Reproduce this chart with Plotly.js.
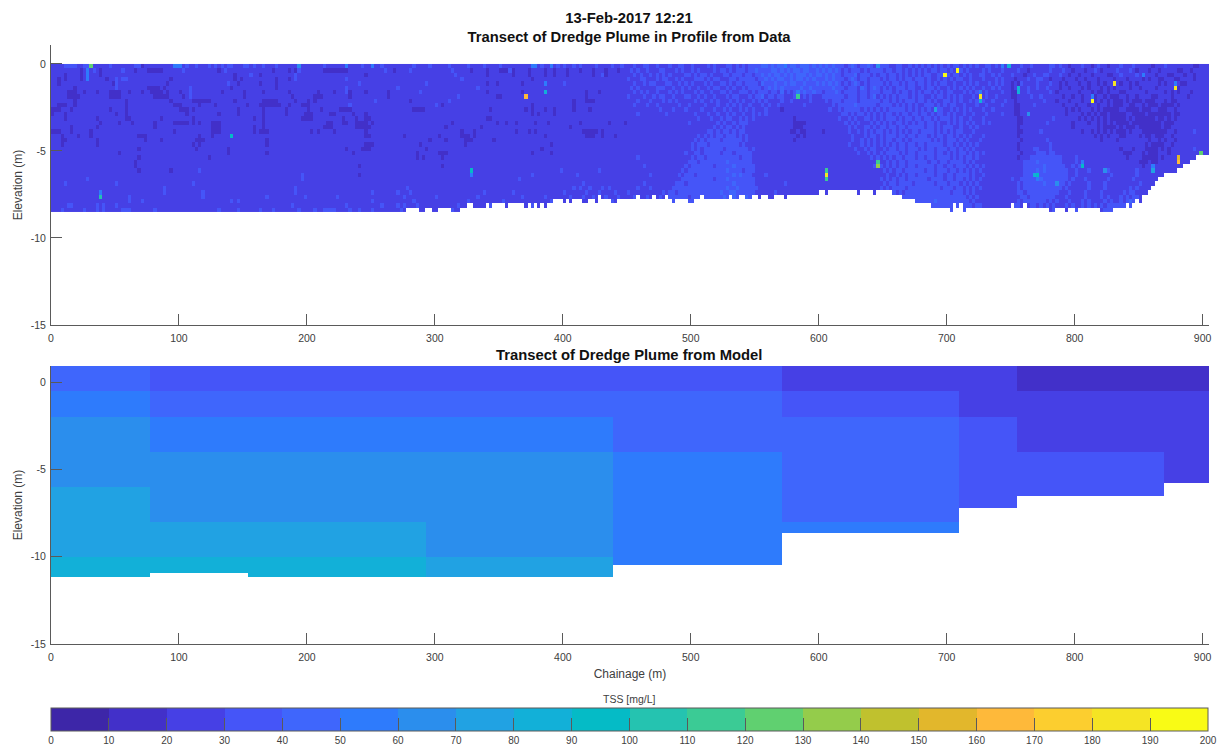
<!DOCTYPE html>
<html><head><meta charset="utf-8">
<script src="https://cdn.plot.ly/plotly-3.0.1.min.js"></script>
<style>html,body{margin:0;padding:0;background:#fff}#plot{width:1226px;height:746px}
.heatmaplayer image{filter:blur(0.6px)}</style>
</head><body><div id="plot"></div>
<script>
// ---------- colour levels (10 mg/L steps) ----------
const levelColors=["#3d26a8","#4230c9","#4640e5","#4555f8","#3f66fc","#2e7bfc","#2b8eed","#21a2e3","#12b0d8","#05bbc6","#25c3b0","#3bcb95","#60d070","#94cc4b","#c0c12e","#e2b72c","#feb93a","#fcce2f","#f5e424","#f9fb15"];
const colorTicks=[0,10,20,30,40,50,60,70,80,90,100,110,120,130,140,150,160,170,180,190,200];
const chainTicks=[0,100,200,300,400,500,600,700,800,900];
const elevTicks=[0,-5,-10,-15];
const elevTickText=["0","-5","-10","-15"];

// ---------- measured profile, cells 2.5 m x 0.25 m ----------
const cellW=2.5, cellH=0.25, nCols=362, nRows=34, base=25;
// seabed steps: section end chainage and depth
const bedEnds=[277.6,288.5,293.7,296.4,301.6,312,319.8,325,329,339.3,342,344.6,355,358.1,368.8,371.4,374,377.1,379.7,382.4,385,387.6,392.8,400.6,403.2,405.8,408.4,416.2,418.8,424,427.2,430.3,438.1,443.6,458,460,471,473.6,478.8,481.4,484,486.6,497,502.7,507.4,510.6,528.8,531.4,536.6,541.8,547,552.3,554.9,560.1,565.3,572,575.2,601.2,604,606.4,630,633,643,646,654,656,658,665,675.5,688.6,701.6,705,707.6,710.2,712.8,715.4,751,753.7,759,761.5,780.5,785.7,793.6,796.2,798.8,801.4,820.1,831,838.9,841.5,844.9,847.5,850.1,852.7,857,860,863,866,871,879,884,889,894,906];
const bedDepth=[8.5,8.25,8.5,8.25,8.5,8.25,8.5,8.25,8,8.25,8,8.25,8,8.25,8,8.25,8,8.25,8,8.25,8,8.25,8,7.75,8,7.75,8,7.75,8,7.75,8,7.5,7.75,8,7.75,7.5,7.75,7.5,7.75,7.5,7.75,8,7.75,8,7.75,7.5,7.75,7.5,7.75,7.5,7.75,7.5,7.75,7.5,7.75,7.5,7.75,7.5,7.25,7.5,7.25,7.5,7.25,7.5,7.25,7.5,7.25,7.5,7.75,8,8.25,8.5,8,8.25,8,8.5,8.25,8,8.25,8,8.25,8.5,8.25,8.5,8.25,8.5,8.25,8.5,8.25,8,8.25,8,7.75,8,7.5,7.25,7,6.75,6.5,6.25,6,5.75,5.5,5.25];
// darker cells west of col 180, one list per row
const darkByRow=[[28],[9,15,26,30,31,32,33,34,52,69,74,76,85,86,87,88,89,90,91,92,107,131,136,140,141,142,144,149,154,157,161,165,169,173,177],[4,9,15,57,65,98,136,144,149,154,157,161,169,173],[2,4,9,17,37,57,59,70,74,76,150],[2,19,36,58,65,70,136,147,139],[7,20,30,31,32,33,35,56,70,92],[5,6,7,10,14,18,19,20,21,24,28,31,32,33,34,36,40,53,60,66,74,83,88,93,98,105,136,147,167,171],[5,6,7,8,18,19,20,21,32,33,34,35,36,41,60,75,82,83,84,93,105,139,140,167],[7,23,37,44,45,46,47,48,49,57,66,67,68,69,70,76,80,82,112,163,167,168,169],[2,3,4,7,23,38,39,40,46,51,61,65,66,67,68,69,70,71,74,78,79,80,122,150,163],[0,1,2,6,18,23,40,41,42,44,58,66,73,80,84,90,91,92,93,113,114,115,116,137,148,150,154,157,163,168],[0,4,20,23,42,52,58,66,73,79,80,81,87,88,94,98,150,152,157],[4,14,23,24,34,44,63,66,78,79,80,81,91,95,98,99,136,137],[15,21,25,32,38,39,40,41,42,44,46,50,51,52,66,86,87,91,92,95,96,97,98,100,125,139,142,145,151,155,165,174,179],[6,14,32,50,51,52,63,66,85,86,87,95,96,97,98,99,123,134,162],[0,1,2,6,12,38,50,51,52,63,65,66,67,81,83,88,98,128,132,145,149,151,166,167,168,169,170,172],[3,8,12,27,28,29,46,50,98,99,110,121,128,129,130,132,154,167,168,169,172,176],[3,4,14,29,34,45,46,47,67,118,123,129,130,131,138],[3,14,44,46,67,98,99,100,115,129,156],[27,45,55,92,97,98,99,117,153],[21,55,67,94,114,121,122,123,150,156],[27,49,114,116,122],[26],[26,96,122],[27,37],[96],[],[],[],[],[],[],[],[]];
// lighter cells west of col 180, one list per row
const lightByRow=[[4,5,6,7,10,11,18,26,27,42,45,49,51,53,55,56,60,61,63,66,70,85,97,103,113,118,124,130,135,140,153,158,160,163,165,170,175,178],[13,22,41,54,77,104,112,125,143],[62,76,126,172],[20,22,23,76,92,128],[20,55,96,117,160],[20,43,92,108,133],[43,92,115],[43,127],[101,124],[93,120],[],[],[],[],[],[],[],[],[],[],[],[],[],[],[46,159,171],[78,150,164],[11,78,146],[4,20,44,166],[35,76,111,163,165,168,172,174],[35,47,76,100,108,112,135,144,160,167,171,176],[24,47,67,79,89,110,120,133,147,154,162,166,169,173,177],[24,28,56,58,100,113,130,141,156,161,168,175,179],[5,6,14,16,20,75,92,103,108,110,114,127,137,150,158,164,170,176],[3,10,14,16,22,23,24,32,52,58,65,69,77,82,85,86,87,88,93,96,100,109,117,125,133,142,151,160,168,174]];
// brighter cells: chainage column, row, TSS
const hotCols=[12,11,11,11,39,40,38,77,92,100,15,15,56,148,154,154,131,131,150,151,156,233,233,242,242,242,258,258,258,279,283,290,290,290,302,302,276,305,299,297,322,322,308,307,308,314,329,344,344,325,325,332,351,351,352,352,359,341];
const hotRows=[0,1,2,3,0,0,0,0,0,0,29,30,16,7,4,6,24,25,0,0,0,6,7,24,25,26,22,23,0,2,1,7,8,6,5,6,10,11,0,0,22,23,25,25,26,27,24,23,24,8,7,4,5,4,21,22,20,2];
const hotVals=[125,55,55,55,55,55,55,65,55,55,55,105,95,165,55,85,95,55,55,55,55,55,115,115,185,115,115,135,65,195,195,185,85,55,85,85,75,65,85,55,55,95,95,85,55,65,65,55,75,195,55,185,185,55,155,165,125,55];
// cell by cell reading east of col 180 (symbols: 1=15, 2=25, 3=35, 4=45, 5=55)
const eastA=["223223322322232233223222232322233232323333443434453443444343","232322322233222323223232222323323233323343333443434344344334","223232232323232222332323323222332333233233434344343434443434","322233222323322323222333232332223323333323343434433434434343","223223233222332232323222323223323233233332433343343443343334","232322222333223223232232232332232322323333234343433333433433","223232322322232323222323223223323223332323332332423232343343","322223223233223222332232322322232332223233423323322232232322","222322232223232322222323223232223232322323232222322322222322","223222322322222232232222322232232323223222323223222222232222","222222222232223222322223222322323223232322232222122222222222","222322222222322222222322232232232322322323232222222222222222","222222222222222222222232223223233223232322222222222212222222","222222222222222222232222222232322323332222222222222211112222","222222222222222222222222222323233232322222222222222211122222","222222222222222222222222233232332323322222222222222112112222","222222222222222222222232323233233323232222222222222221212222","222222222222222222222323233332333333232222222222222212222222","222222222222222222223233323333333332322222222222222222222222","222222222222222222223232333333233333332322222222222222222222","222222222222222222322332333332333233333222222222222222222222","222322222222222222223233233333333332333222222222222222222222","222222222222222222233323333333343333333222222222222222222222","222223222222222222323333333233333433333322222222222222222222","222222222222222223233333333333343333233322222222222222222222","222222232222222232333233333333333434333222232222222222222222","222222222222222223333333333233343333333322222222222222222222","222223222222222333233333333333333433333322222222232222222222","222322232222223333333333333333343343333332222222222222222222","322222222223233233333333333334334433333322222232222222222222","223222322232333333323333333333434433343322222232222222222222","323232332323233333233333333343344333433322222222222222222222","232332332332333233233323333333333433333322222222222222222222","322233233333333233233233333333333333333322222222222222222222"];
const eastB=["434343332343233432433322332232323232323232332323232233232223","343434323233323233332332332323232323323323223232222323222322","434343323334233323233233232323232332233232332323223322323222","334343332343233233323233232332333232232323233223222322232322","343434323234323233332323323233233232323322322323232223232322","333343332333243234323232333233223233232232323232322322323222","323334323333233233323332323323232332323233222323232232222322","233333332333233234232323233323233223233232323222322232232222","223233323333233333323323232333233232322332323223232322322232","222232333334333333233332323232322333232323322322232232222322","222322323333323232323233333232323232333223232323222322322222","222222233232332323232332323323323323233232322322322232222322","222222322323223323232333232332332332323332323223222322222222","222222223232322232323232332323233233232232323232322323222222","222222222323223323233233233233333233232333223223232222222222","212222222322323232332323232323323333232323233222322222222222","222222222232223233232333233233233323233233232323222322222222","222222222232232323232332332323333332323233323232223222222222","222222222322232323232323233233233233333233232323232222222222","222222222223223233223233233233323233233323323232322222222222","222222222222322323232333323233233333233232323323232322222222","222222222222222232323232332333233233233332323233232222222222","222222222222222222322323233233333323323323333232322222222222","222222222222222223232323233233233333233233233323232322222222","222222222222222222223232332333333233233323323232323222222222","222222222222222222222322323233233333233233233332322322222222","222222222222222222232323233233333323333233233232323222222222","222222222222222222223233233332333333233323332323232222222222","222222222222222222232323333233333333332333233232323222222222","322222222222222222323233232333333333333332333232322222222222","222222222222222222223233323333333333333333333323232222222222","222222222222222222232323232333333333433333333332322222222222","222222222222222222223233233333333343333333333333233222222222","222222222222222223232323233333343333343333333333323222222222"];
const eastC=["222322322222332322122232212322122232223222221222322222222112","223221222222322232212221223212222322232122212212222211221222","322212232233222322122122212222112232222321222122211222122122","212223223322122212221221222122221222122221212211222112222122","121322223222322121222122122121222212212122222212122121122222","122223223223222122122212122212121222212212222122222112222222","112223222222321222222122212112122211222222122222121212221222","112222322322222212212212211221211122122122221122221222212222","212222222232221222122212221212121112121112111222121122222222","211222232222222212221222122122121112211221211121111212222222","211222222222222221212122212121111122111121112211122122222222","211222222222222221222212121211211111221111211111112112222222","221122222222232222222121212121211111212111111211212122222222","221122222223222222212222122121212111121111111112111222222222","221222222222222222212222222121111212111211111112112222222222","221122222322222222222212212121212111212221111111122122222322","221222222222222222222222221212122211222212112111221222222222","222122222223222222222222222212222122222222212212122122222222","221222222222322222222222222222222222222222121111221222222222","221222233222322222222222222222222212221222111121212222222322","222122223332332222222222222222222221112221211122212222222222","221222333333333322223222222222222222122221111121222222222222","222233334333333322223222222222222222222211121122222222222222","222233333343333332232322222222222222222221221222222222222222","222233334343333333223222322222322222222322222222222222222222","222233333333333333223222222222232222222322222222222222222222","322333333433333333232223222222322222223222222222222222222222","223233333343333332322222322223222222222232222222222222222222","223233333333333323222222322223222222232322222222222222222222","223323333333333222322223222232222223233222222222222222222222","222332333333332223222223222232322232323322222222222222222222","223233333332323222322232322223232232343322222222222222222222","233232332323232223232232323232333333433322222222222222222222","332323232333233232323233232323333343433222222222222222222222"];

// ---------- model layers ----------
const modelEnds=[77.5,154,293,439,571,710,755,870,905];
const modelBed=[11.17,10.92,11.17,11.17,10.47,8.67,7.2,6.5,5.78];
const layerTops=[0.92,-0.5,-2,-4,-6,-8,-10];
const modelValues=[
 [45,55,65,65,75,75,85],
 [35,45,55,65,65,75,85],
 [35,45,55,65,65,75,85],
 [35,45,55,65,65,65,75],
 [35,45,45,55,55,55,55],
 [25,35,45,45,45,55,55],
 [25,25,35,35,35,35,35],
 [15,25,25,35,35,35,35],
 [15,25,25,25,25,25,25]];
const modelYEdges=[0.92,-0.5,-2,-4,-5.78,-6,-6.5,-7.2,-8,-8.67,-10,-10.47,-10.92,-11.17];

// ---------- build grids ----------
const sym={"1":15,"2":25,"3":35,"4":45,"5":55};
const dataX=[];for(let c=0;c<=nCols;c++)dataX.push(Math.min(c*cellW,905));
const dataY=[];for(let r=0;r<=nRows;r++)dataY.push(-r*cellH);
const dataZ=[];
for(let r=0;r<nRows;r++){
  const row=new Array(nCols).fill(base);
  darkByRow[r].forEach(c=>row[c]=15);
  lightByRow[r].forEach(c=>row[c]=35);
  [[eastA,180],[eastB,240],[eastC,300]].forEach(([rows,start])=>{
    for(let i=0;i<rows[r].length&&start+i<nCols;i++)row[start+i]=sym[rows[r][i]];
  });
  dataZ.push(row);
}
hotCols.forEach((c,i)=>{dataZ[hotRows[i]][c]=hotVals[i];});
for(let c=0;c<nCols;c++){
  const mid=(c+0.5)*cellW;
  let k=bedEnds.findIndex(e=>mid<=e);
  const d=bedDepth[k];
  for(let r=0;r<nRows;r++) if((r+1)*cellH>d+1e-6) dataZ[r][c]=null;
}
const modelX=[0].concat(modelEnds);
const modelZ=[];
for(let j=0;j<modelYEdges.length-1;j++){
  const mid=(modelYEdges[j]+modelYEdges[j+1])/2, row=[];
  let lay=0;layerTops.forEach((t,i)=>{if(mid<t)lay=i;});
  for(let i=0;i<modelEnds.length;i++) row.push(-mid>modelBed[i]?null:modelValues[i][lay]);
  modelZ.push(row);
}
const stepped=[];
levelColors.forEach((c,i)=>{stepped.push([i/20,c]);stepped.push([(i+1)/20,c]);});

const W=1226,H=746;
const tickGrey="#404040",lineGrey="#5a5a5a";
const font="'Liberation Sans',Arial,sans-serif";
function xAxis(extra){return Object.assign({domain:[51/W,1209/W],range:[0,905],tickmode:"array",tickvals:chainTicks,ticktext:chainTicks.map(String),ticks:"inside",ticklen:11,tickwidth:1,tickcolor:lineGrey,showline:true,linecolor:lineGrey,linewidth:1,showgrid:false,zeroline:false,ticklabelstandoff:3,tickfont:{size:10.5,color:tickGrey,family:font}},extra);}
function yAxis(top,bottom,rmax,extra){return Object.assign({domain:[1-bottom/H,1-top/H],range:[-15,rmax],tickmode:"array",tickvals:elevTicks,ticktext:elevTickText,ticks:"inside",ticklen:11,tickwidth:1,tickcolor:lineGrey,showline:true,linecolor:lineGrey,linewidth:1,showgrid:false,zeroline:false,ticklabelstandoff:2,tickfont:{size:10.5,color:tickGrey,family:font},title:{text:"Elevation (m)",standoff:5,font:{size:12,color:tickGrey,family:font}}},extra);}

const traces=[
 {type:"heatmap",x:dataX,y:dataY,z:dataZ,xaxis:"x",yaxis:"y",zmin:0,zmax:200,colorscale:stepped,hoverongaps:false,
  colorbar:{orientation:"h",x:(51+1208)/2/W,xanchor:"center",y:-14/H,yanchor:"bottom",lenmode:"pixels",len:1157,thicknessmode:"pixels",thickness:23,xpad:0,ypad:0,outlinecolor:lineGrey,outlinewidth:1,ticks:"inside",ticklen:13,tickwidth:1,tickcolor:lineGrey,tickmode:"array",tickvals:colorTicks,ticktext:colorTicks.map(String),tickfont:{size:10,color:tickGrey,family:font}}},
 {type:"heatmap",x:modelX,y:modelYEdges,z:modelZ,xaxis:"x2",yaxis:"y2",zmin:0,zmax:200,colorscale:stepped,showscale:false,hoverongaps:false}
];
const layout={
 width:W,height:H,autosize:false,paper_bgcolor:"#fff",plot_bgcolor:"#fff",showlegend:false,
 margin:{l:0,r:0,t:0,b:0,autoexpand:false},
 font:{family:font},
 title:{text:"13-Feb-2017 12:21<br>Transect of Dredge Plume in Profile from Data",x:629/W,xanchor:"center",y:1-23/H,yanchor:"top",font:{size:14.8,color:"#111",family:font,weight:"bold"}},
 xaxis:xAxis({anchor:"y"}),
 yaxis:yAxis(45,325,1.09,{anchor:"x"}),
 xaxis2:xAxis({anchor:"y2",title:{text:"Chainage (m)",standoff:8,font:{size:12,color:tickGrey,family:font}}}),
 yaxis2:yAxis(366,644,0.92,{anchor:"x2"}),
 annotations:[
  {text:"Transect of Dredge Plume from Model",xref:"paper",yref:"paper",x:629/W,y:1-355/H,xanchor:"center",yanchor:"middle",showarrow:false,font:{size:14.8,color:"#111",family:font,weight:"bold"}},
  {text:"TSS [mg/L]",xref:"paper",yref:"paper",x:629/W,y:1-699/H,xanchor:"center",yanchor:"middle",showarrow:false,font:{size:10.5,color:tickGrey,family:font}}
 ]
};
Plotly.newPlot("plot",traces,layout,{displayModeBar:false,staticPlot:true});
</script></body></html>
